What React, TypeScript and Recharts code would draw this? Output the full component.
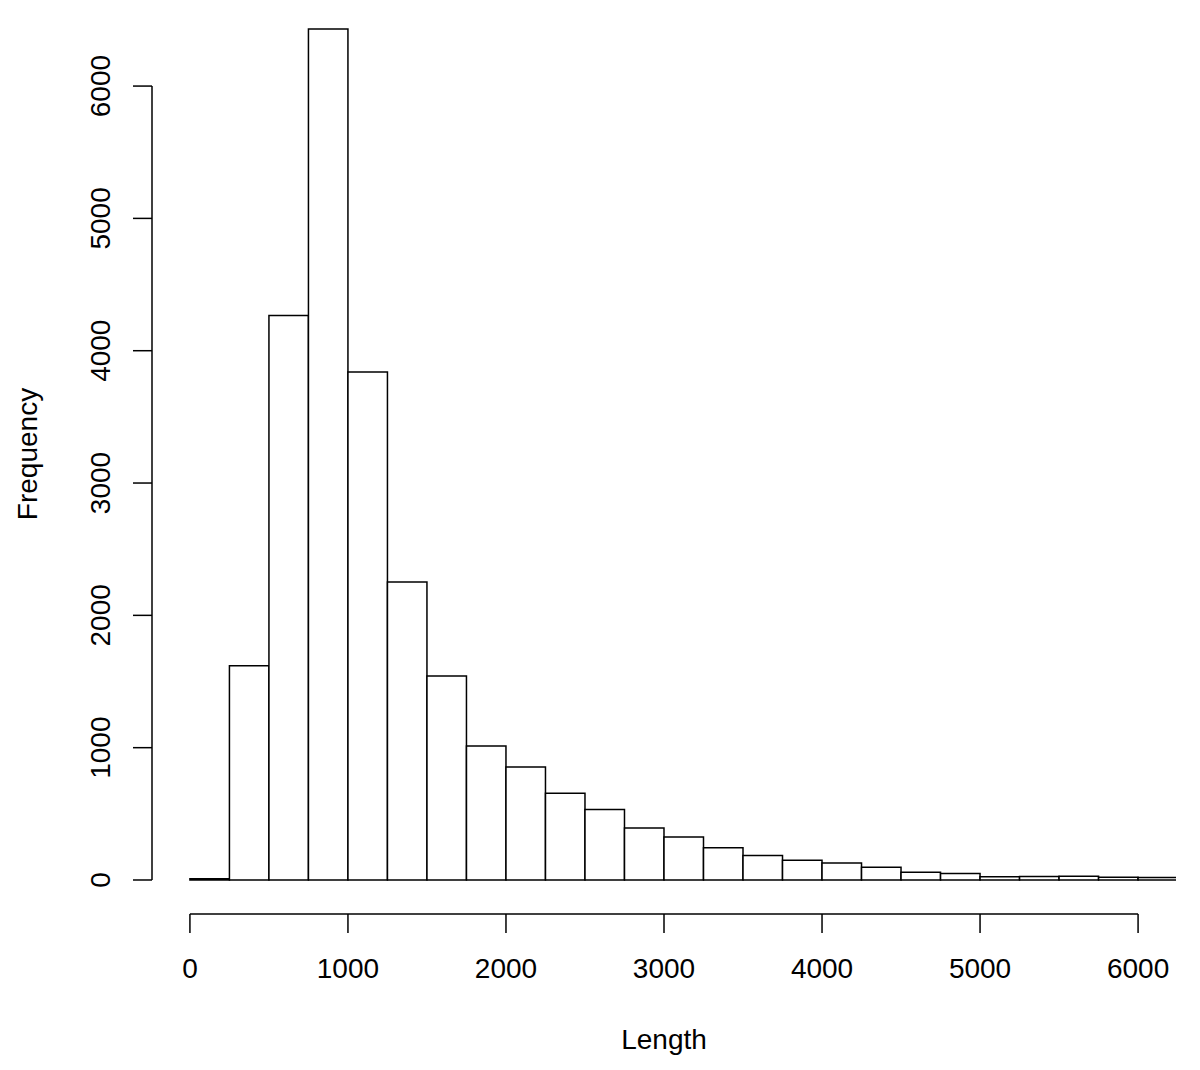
import React from 'react';
import { ComposedChart, Bar, XAxis, YAxis, ReferenceLine } from 'recharts';

// ---- data ----
const BIN_STARTS = [0, 250, 500, 750, 1000, 1250, 1500, 1750, 2000, 2250, 2500, 2750, 3000, 3250, 3500, 3750, 4000, 4250, 4500, 4750, 5000, 5250, 5500, 5750, 6000];
const BIN_WIDTH = 250;
const COUNTS = [10, 1619, 4267, 6431, 3839, 2252, 1542, 1013, 853, 655, 532, 393, 325, 244, 185, 150, 128, 97, 58, 49, 24, 26, 29, 21, 18];
const X_TICKS = [0, 1000, 2000, 3000, 4000, 5000, 6000];
const Y_TICKS = [0, 1000, 2000, 3000, 4000, 5000, 6000];
const X_LABEL = 'Length';
const Y_LABEL = 'Frequency';

const X_DOMAIN: [number, number] = [-240, 6240];
const Y_DOMAIN: [number, number] = [-257, 6590];

const data = BIN_STARTS.map((s, i) => ({ mid: s + BIN_WIDTH / 2, count: COUNTS[i] }));

// ---- layout ----
const FONT = '"Liberation Sans", Arial, Helvetica, sans-serif';
const FS = 28;
const W = 1192;
const H = 1060;
const MARGIN = { top: 0, right: 24, bottom: 0, left: 0 };
const Y_AXIS_W = 144;
const X_AXIS_H = 154;
const PLOT_W = W - MARGIN.left - MARGIN.right - Y_AXIS_W;
const PX_PER_X = PLOT_W / (X_DOMAIN[1] - X_DOMAIN[0]);
// slightly below the band width so Recharts keeps the full width (no 0.9 shrink)
const BAR_PX = BIN_WIDTH * PX_PER_X - 0.01;
const LINE_W = 1.5;

const YTick = (props: any) => {
  const { x, y, payload } = props;
  return (
    <text
      x={x}
      y={y}
      textAnchor="middle"
      fill="#000"
      fontSize={FS}
      fontFamily={FONT}
      transform={`rotate(-90, ${x}, ${y})`}
    >
      {payload.value}
    </text>
  );
};

const YLabel = (props: any) => {
  const vb = props.viewBox || { x: 0, y: 0, width: Y_AXIS_W, height: H - X_AXIS_H };
  const cx = vb.x + 29;
  const cy = vb.y + vb.height / 2 - 7;
  return (
    <text x={cx} y={cy} textAnchor="middle" fill="#000" fontSize={FS} fontFamily={FONT} transform={`rotate(-90, ${cx}, ${cy})`}>
      {Y_LABEL}
    </text>
  );
};

const XLabel = (props: any) => {
  const vb = props.viewBox || { x: Y_AXIS_W, y: H - X_AXIS_H, width: PLOT_W, height: X_AXIS_H };
  const cx = vb.x + vb.width / 2;
  const cy = vb.y + 135;
  return (
    <text x={cx} y={cy} textAnchor="middle" fill="#000" fontSize={FS} fontFamily={FONT}>
      {X_LABEL}
    </text>
  );
};

export default function App() {
  return (
    <div style={{ width: W, height: H, background: '#fff' }}>
      <ComposedChart width={W} height={H} data={data} margin={MARGIN} barCategoryGap={0} barGap={0}>
        <XAxis
          dataKey="mid"
          type="number"
          domain={X_DOMAIN}
          allowDataOverflow
          ticks={X_TICKS}
          interval={0}
          height={X_AXIS_H}
          axisLine={false}
          tickLine={{ stroke: '#000', strokeWidth: LINE_W }}
          tickSize={19}
          tickMargin={25}
          tick={{ fill: '#000', fontSize: FS, fontFamily: FONT }}
          label={XLabel}
        />
        <YAxis
          type="number"
          domain={Y_DOMAIN}
          allowDataOverflow
          ticks={Y_TICKS}
          interval={0}
          width={Y_AXIS_W}
          axisLine={false}
          tickLine={{ stroke: '#000', strokeWidth: LINE_W }}
          tickSize={19}
          tickMargin={23}
          tick={YTick}
          label={YLabel}
        />
        <Bar
          dataKey="count"
          fill="#fff"
          stroke="#000"
          strokeWidth={LINE_W}
          barSize={BAR_PX}
          isAnimationActive={false}
        />
        <ReferenceLine
          ifOverflow="visible"
          stroke="#000"
          strokeWidth={LINE_W}
          segment={[{ x: X_DOMAIN[0], y: Y_TICKS[0] }, { x: X_DOMAIN[0], y: Y_TICKS[Y_TICKS.length - 1] }]}
        />
        <ReferenceLine
          ifOverflow="visible"
          stroke="#000"
          strokeWidth={LINE_W}
          segment={[{ x: X_TICKS[0], y: Y_DOMAIN[0] }, { x: X_TICKS[X_TICKS.length - 1], y: Y_DOMAIN[0] }]}
        />
      </ComposedChart>
    </div>
  );
}
